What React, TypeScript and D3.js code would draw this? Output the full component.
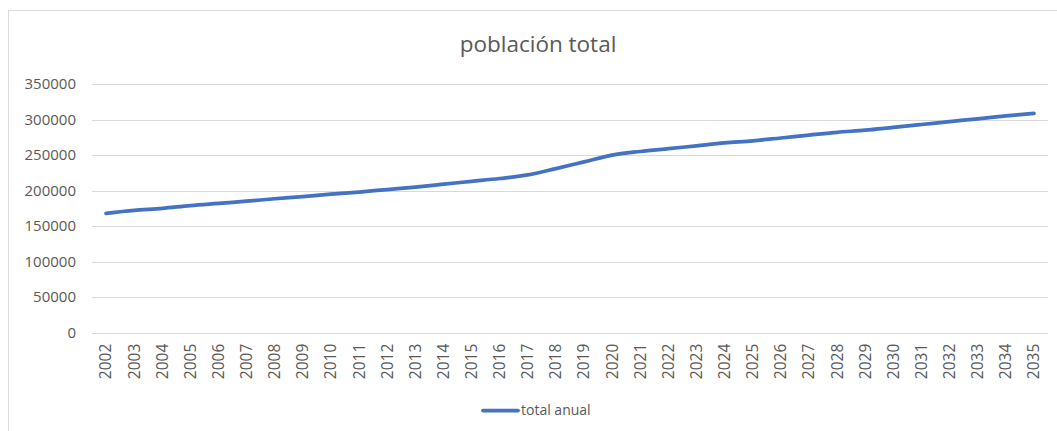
import { useEffect, useRef } from 'react';
import * as d3 from 'd3';

const W = 1057
const H = 431
const margin = { top: 84, right: 9, bottom: 98, left: 92 }
const width = 1048 - margin.left
const height = 332.7 - margin.top

const years = [
  '2002', '2003', '2004', '2005', '2006', '2007', '2008', '2009', '2010', '2011',
  '2012', '2013', '2014', '2015', '2016', '2017', '2018', '2019', '2020', '2021',
  '2022', '2023', '2024', '2025', '2026', '2027', '2028', '2029', '2030', '2031',
  '2032', '2033', '2034', '2035',
]
const totalAnual = [
  168000, 172000, 175000, 179000, 182000, 185000, 188500, 191500, 195000, 198000,
  201500, 205000, 209000, 213000, 217000, 222000, 231000, 240500, 250000, 255000,
  259000, 263000, 267000, 270000, 274000, 278000, 282000, 285000, 289000, 293000,
  297000, 301000, 305000, 308500,
]
const yTicks = [0, 50000, 100000, 150000, 200000, 250000, 300000, 350000]

const font = '"Open Sans", "Noto Sans", sans-serif'
const textColor = '#595959'
const lineColor = '#4472C4'

const App = () => {
  const ref = useRef(null)

  useEffect(() => {
    document.body.style.margin = '0'
    if (!ref.current) return
    const svg = d3.select(ref.current)
    svg.selectAll('*').remove()

    svg.append('rect')
      .attr('x', 8.5).attr('y', 10.5)
      .attr('width', W).attr('height', H)
      .attr('fill', '#fff').attr('stroke', '#d9d9d9')

    const x = d3.scaleBand().domain(years).range([0, width])
    const y = d3.scaleLinear().domain([0, 350000]).range([height, 0])

    const g = svg.append('g').attr('transform', `translate(${margin.left},${margin.top})`)

    // gridlines
    g.selectAll('.grid')
      .data(yTicks)
      .enter()
      .append('line')
      .attr('x1', 0).attr('x2', width)
      .attr('y1', d => Math.round(y(d)) + 0.5).attr('y2', d => Math.round(y(d)) + 0.5)
      .attr('stroke', '#d9d9d9').attr('stroke-width', 1)

    // y labels
    g.selectAll('.ylab')
      .data(yTicks)
      .enter()
      .append('text')
      .attr('x', -16)
      .attr('y', d => y(d))
      .attr('dy', '0.35em')
      .attr('text-anchor', 'end')
      .attr('font-family', font).attr('font-size', 15).attr('fill', textColor)
      .text(d => String(d))

    // x labels
    g.selectAll('.xlab')
      .data(years)
      .enter()
      .append('text')
      .attr('transform', d => `translate(${x(d)! + x.bandwidth() / 2},${height + 11}) rotate(-90)`)
      .attr('dy', '0.35em')
      .attr('text-anchor', 'end')
      .attr('font-family', font).attr('font-size', 15.5).attr('fill', textColor)
      .text(d => d)

    // line
    const line = d3.line<number>()
      .x((_, i) => x(years[i])! + x.bandwidth() / 2)
      .y(d => y(d))
      .curve(d3.curveCatmullRom)
    g.append('path')
      .datum(totalAnual)
      .attr('d', line)
      .attr('fill', 'none')
      .attr('stroke', lineColor)
      .attr('stroke-width', 3.75)
      .attr('stroke-linecap', 'round')

    // title
    svg.append('text')
      .attr('x', 538).attr('y', 52)
      .attr('text-anchor', 'middle')
      .attr('font-family', font).attr('font-size', 22.5).attr('fill', textColor)
      .text('población total')

    // legend
    svg.append('line')
      .attr('x1', 483).attr('x2', 518).attr('y1', 410.5).attr('y2', 410.5)
      .attr('stroke', lineColor).attr('stroke-width', 3.75).attr('stroke-linecap', 'round')
    svg.append('text')
      .attr('x', 521).attr('y', 410.5).attr('dy', '0.35em')
      .attr('font-family', font).attr('font-size', 14).attr('fill', textColor)
      .text('total anual')
  }, [])

  return <svg ref={ref} width={W} height={H} style={{ display: 'block' }}></svg>
}

export default App
